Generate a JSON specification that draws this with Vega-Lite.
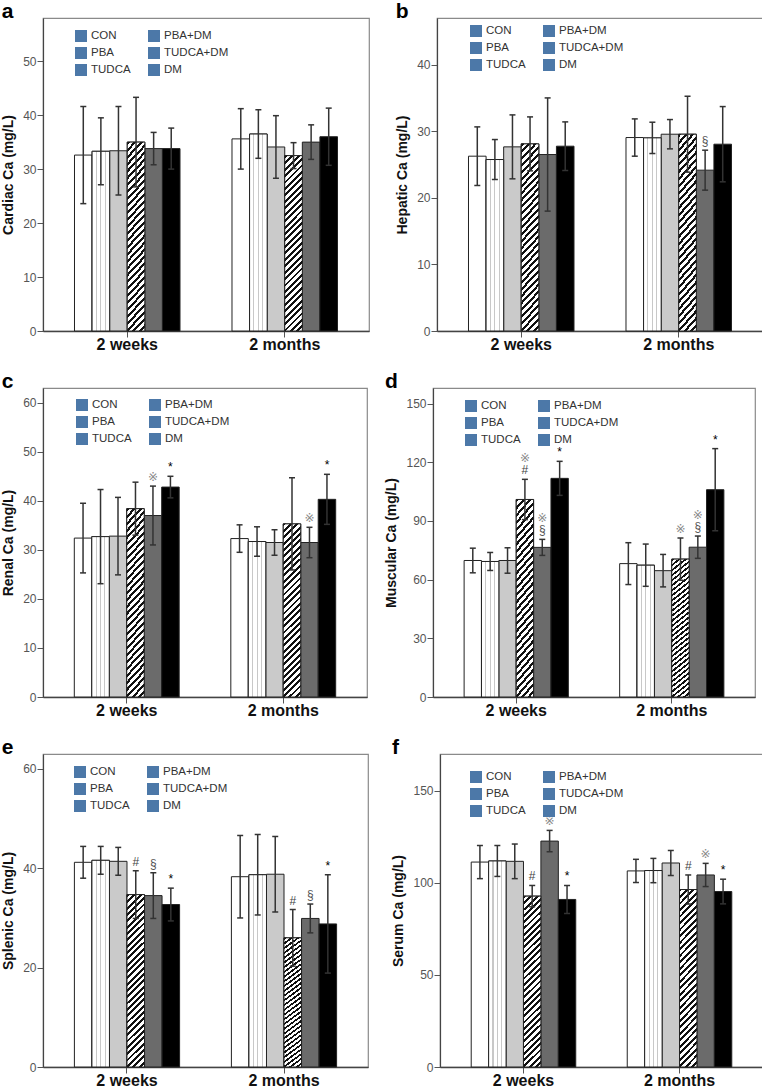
{
"$schema": "https://vega.github.io/schema/vega-lite/v6.json",
"padding": {"left": 1, "top": 0, "right": 0, "bottom": 0},
"background": "#ffffff",
"datasets": {"bars": [
{"panel":"a","time":"2 weeks","group":"CON","mean":32.6,"lo":23.6,"hi":41.6},
{"panel":"a","time":"2 weeks","group":"PBA","mean":33.3,"lo":27.1,"hi":39.5},
{"panel":"a","time":"2 weeks","group":"TUDCA","mean":33.4,"lo":25.2,"hi":41.6},
{"panel":"a","time":"2 weeks","group":"PBA+DM","mean":35.0,"lo":26.7,"hi":43.3},
{"panel":"a","time":"2 weeks","group":"TUDCA+DM","mean":33.8,"lo":30.8,"hi":36.8},
{"panel":"a","time":"2 weeks","group":"DM","mean":33.8,"lo":30.0,"hi":37.6},
{"panel":"a","time":"2 months","group":"CON","mean":35.6,"lo":30.0,"hi":41.2},
{"panel":"a","time":"2 months","group":"PBA","mean":36.5,"lo":32.0,"hi":41.0},
{"panel":"a","time":"2 months","group":"TUDCA","mean":34.1,"lo":28.3,"hi":39.9},
{"panel":"a","time":"2 months","group":"PBA+DM","mean":32.5,"lo":30.1,"hi":34.9},
{"panel":"a","time":"2 months","group":"TUDCA+DM","mean":35.0,"lo":31.8,"hi":38.2},
{"panel":"a","time":"2 months","group":"DM","mean":36.0,"lo":30.7,"hi":41.3},
{"panel":"b","time":"2 weeks","group":"CON","mean":26.25,"lo":21.85,"hi":30.65},
{"panel":"b","time":"2 weeks","group":"PBA","mean":25.75,"lo":22.75,"hi":28.75},
{"panel":"b","time":"2 weeks","group":"TUDCA","mean":27.65,"lo":22.85,"hi":32.45},
{"panel":"b","time":"2 weeks","group":"PBA+DM","mean":28.1,"lo":24.05,"hi":32.15},
{"panel":"b","time":"2 weeks","group":"TUDCA+DM","mean":26.5,"lo":18.0,"hi":35.0},
{"panel":"b","time":"2 weeks","group":"DM","mean":27.75,"lo":24.1,"hi":31.4},
{"panel":"b","time":"2 months","group":"CON","mean":29.05,"lo":26.25,"hi":31.85},
{"panel":"b","time":"2 months","group":"PBA","mean":29.0,"lo":26.65,"hi":31.35},
{"panel":"b","time":"2 months","group":"TUDCA","mean":29.55,"lo":27.35,"hi":31.75},
{"panel":"b","time":"2 months","group":"PBA+DM","mean":29.55,"lo":23.85,"hi":35.25},
{"panel":"b","time":"2 months","group":"TUDCA+DM","mean":24.15,"lo":21.15,"hi":27.15,"n1":"§"},
{"panel":"b","time":"2 months","group":"DM","mean":28.05,"lo":22.4,"hi":33.7},
{"panel":"c","time":"2 weeks","group":"CON","mean":32.4,"lo":25.3,"hi":39.5},
{"panel":"c","time":"2 weeks","group":"PBA","mean":32.7,"lo":23.1,"hi":42.3},
{"panel":"c","time":"2 weeks","group":"TUDCA","mean":32.8,"lo":24.9,"hi":40.7},
{"panel":"c","time":"2 weeks","group":"PBA+DM","mean":38.4,"lo":33.0,"hi":43.8},
{"panel":"c","time":"2 weeks","group":"TUDCA+DM","mean":37.0,"lo":31.0,"hi":43.0,"n1":"※"},
{"panel":"c","time":"2 weeks","group":"DM","mean":42.8,"lo":40.6,"hi":45.0,"n1":"*"},
{"panel":"c","time":"2 months","group":"CON","mean":32.3,"lo":29.5,"hi":35.1},
{"panel":"c","time":"2 months","group":"PBA","mean":31.7,"lo":28.7,"hi":34.7},
{"panel":"c","time":"2 months","group":"TUDCA","mean":31.5,"lo":28.9,"hi":34.1},
{"panel":"c","time":"2 months","group":"PBA+DM","mean":35.3,"lo":25.9,"hi":44.7},
{"panel":"c","time":"2 months","group":"TUDCA+DM","mean":31.5,"lo":28.4,"hi":34.6,"n1":"※"},
{"panel":"c","time":"2 months","group":"DM","mean":40.3,"lo":35.2,"hi":45.4,"n1":"*"},
{"panel":"d","time":"2 weeks","group":"CON","mean":69.8,"lo":63.5,"hi":76.1},
{"panel":"d","time":"2 weeks","group":"PBA","mean":69.3,"lo":64.7,"hi":73.9},
{"panel":"d","time":"2 weeks","group":"TUDCA","mean":69.8,"lo":63.3,"hi":76.3},
{"panel":"d","time":"2 weeks","group":"PBA+DM","mean":101.0,"lo":90.7,"hi":111.3,"n1":"#","n2":"※"},
{"panel":"d","time":"2 weeks","group":"TUDCA+DM","mean":76.5,"lo":72.4,"hi":80.6,"n1":"§","n2":"※"},
{"panel":"d","time":"2 weeks","group":"DM","mean":111.8,"lo":103.1,"hi":120.5,"n1":"*"},
{"panel":"d","time":"2 months","group":"CON","mean":68.2,"lo":57.5,"hi":78.9},
{"panel":"d","time":"2 months","group":"PBA","mean":67.4,"lo":56.6,"hi":78.2},
{"panel":"d","time":"2 months","group":"TUDCA","mean":64.6,"lo":56.3,"hi":72.9},
{"panel":"d","time":"2 months","group":"PBA+DM","mean":70.5,"lo":59.7,"hi":81.3,"n1":"※"},
{"panel":"d","time":"2 months","group":"TUDCA+DM","mean":76.6,"lo":70.9,"hi":82.3,"n1":"§","n2":"※"},
{"panel":"d","time":"2 months","group":"DM","mean":106.0,"lo":85.0,"hi":127.0,"n1":"*"},
{"panel":"e","time":"2 weeks","group":"CON","mean":41.2,"lo":38.0,"hi":44.4},
{"panel":"e","time":"2 weeks","group":"PBA","mean":41.6,"lo":38.8,"hi":44.4},
{"panel":"e","time":"2 weeks","group":"TUDCA","mean":41.4,"lo":38.6,"hi":44.2},
{"panel":"e","time":"2 weeks","group":"PBA+DM","mean":34.7,"lo":29.9,"hi":39.5,"n1":"#"},
{"panel":"e","time":"2 weeks","group":"TUDCA+DM","mean":34.5,"lo":29.9,"hi":39.1,"n1":"§"},
{"panel":"e","time":"2 weeks","group":"DM","mean":32.7,"lo":29.4,"hi":36.0,"n1":"*"},
{"panel":"e","time":"2 months","group":"CON","mean":38.3,"lo":30.0,"hi":46.6},
{"panel":"e","time":"2 months","group":"PBA","mean":38.7,"lo":30.6,"hi":46.8},
{"panel":"e","time":"2 months","group":"TUDCA","mean":38.8,"lo":31.2,"hi":46.4},
{"panel":"e","time":"2 months","group":"PBA+DM","mean":26.0,"lo":20.3,"hi":31.7,"n1":"#"},
{"panel":"e","time":"2 months","group":"TUDCA+DM","mean":29.9,"lo":27.0,"hi":32.8,"n1":"§"},
{"panel":"e","time":"2 months","group":"DM","mean":28.8,"lo":18.9,"hi":38.7,"n1":"*"},
{"panel":"f","time":"2 weeks","group":"CON","mean":111.3,"lo":102.3,"hi":120.3},
{"panel":"f","time":"2 weeks","group":"PBA","mean":111.9,"lo":103.5,"hi":120.3},
{"panel":"f","time":"2 weeks","group":"TUDCA","mean":111.7,"lo":102.3,"hi":121.1},
{"panel":"f","time":"2 weeks","group":"PBA+DM","mean":92.8,"lo":87.0,"hi":98.6,"n1":"#"},
{"panel":"f","time":"2 weeks","group":"TUDCA+DM","mean":122.7,"lo":116.9,"hi":128.5,"n1":"※"},
{"panel":"f","time":"2 weeks","group":"DM","mean":91.0,"lo":83.4,"hi":98.6,"n1":"*"},
{"panel":"f","time":"2 months","group":"CON","mean":106.5,"lo":100.2,"hi":112.8},
{"panel":"f","time":"2 months","group":"PBA","mean":106.7,"lo":100.1,"hi":113.3},
{"panel":"f","time":"2 months","group":"TUDCA","mean":110.8,"lo":104.0,"hi":117.6},
{"panel":"f","time":"2 months","group":"PBA+DM","mean":96.4,"lo":88.5,"hi":104.3,"n1":"#"},
{"panel":"f","time":"2 months","group":"TUDCA+DM","mean":104.3,"lo":98.0,"hi":110.6,"n1":"※"},
{"panel":"f","time":"2 months","group":"DM","mean":95.3,"lo":88.6,"hi":102.0,"n1":"*"}
]},
"config": {
 "font": "Liberation Sans",
 "view": {"stroke": "#8a8a8a", "strokeWidth": 1.2},
 "axis": {"grid": false, "domainColor": "#444444", "tickColor": "#555555", "tickSize": 6},
 "axisX": {"labelFontSize": 16, "labelFontWeight": "bold", "labelColor": "#111111", "labelPadding": -1, "labelAngle": 0, "domainWidth": 1.3},
 "axisY": {"labelFontSize": 12, "labelColor": "#555555", "labelPadding": 1, "titleFontSize": 14, "titleFontWeight": "bold", "titleColor": "#111111", "titlePadding": 7, "domainWidth": 1.2, "minExtent": 0},
 "title": {"fontSize": 21, "fontWeight": "bold", "anchor": "start", "frame": "bounds", "offset": -4, "baseline": "alphabetic", "color": "#000000"},
 "legend": {"columns": 2, "columnPadding": 14, "rowPadding": -1, "symbolType": "square", "symbolSize": 144, "symbolOpacity": 1, "labelFontSize": 11.5, "labelColor": "#333333", "labelOffset": 3}
},
"spacing": 17,
"resolve": {"scale": {"color": "independent", "shape": "independent", "y": "independent", "x": "independent", "xOffset": "independent"}, "legend": {"color": "independent", "shape": "independent"}},
"vconcat": [
{"hconcat": [
 {"title": "a", "width": 326, "height": 313, "data": {"name": "bars"}, "transform": [{"filter": "datum.panel === 'a'"}],
  "encoding": {
   "x": {"field": "time", "type": "nominal", "sort": ["2 weeks", "2 months"], "title": null, "scale": {"paddingInner": 0.33, "paddingOuter": 0.2}},
   "xOffset": {"field": "group", "type": "nominal", "scale": {"domain": ["CON","PBA","TUDCA","PBA+DM","TUDCA+DM","DM"], "paddingInner": 0, "paddingOuter": 0}},
   "y": {"field": "mean", "type": "quantitative", "title": "Cardiac Ca (mg/L)", "scale": {"domain": [0, 58], "nice": false}, "axis": {"values": [0,10,20,30,40,50]}}
  },
  "layer": [
   {"mark": {"type": "bar", "stroke": "#222222", "strokeWidth": 1}, "encoding": {"fill": {"condition": [{"test": "datum.group === 'TUDCA'", "value": "#cacaca"}, {"test": "datum.group === 'TUDCA+DM'", "value": "#6b6b6b"}, {"test": "datum.group === 'DM'", "value": "#000000"}], "value": "#ffffff"}}},
   {"transform": [{"filter": "datum.group === 'PBA'"}], "mark": {"type": "bar", "stroke": "#222222", "strokeWidth": 1, "fill": {"gradient": "linear", "x1": 0, "y1": 0, "x2": 1, "y2": 0, "stops": [
{"offset":0,"color":"#fff"},{"offset":0.22,"color":"#fff"},{"offset":0.22,"color":"#c8c8c8"},{"offset":0.28,"color":"#c8c8c8"},{"offset":0.28,"color":"#fff"},
{"offset":0.47,"color":"#fff"},{"offset":0.47,"color":"#c8c8c8"},{"offset":0.53,"color":"#c8c8c8"},{"offset":0.53,"color":"#fff"},
{"offset":0.72,"color":"#fff"},{"offset":0.72,"color":"#c8c8c8"},{"offset":0.78,"color":"#c8c8c8"},{"offset":0.78,"color":"#fff"},{"offset":1,"color":"#fff"}]}}},
   {"transform": [{"filter": "datum.group === 'PBA+DM'"}], "mark": {"type": "bar", "stroke": "#222222", "strokeWidth": 1, "fill": {"gradient": "linear", "x1": 0, "y1": 0, "x2": 0.1096, "y2": 1.0896, "stops": [
{"offset":0,"color":"#111"},{"offset":0.015,"color":"#111"},{"offset":0.015,"color":"#fff"},{"offset":0.0333,"color":"#fff"},
{"offset":0.0333,"color":"#111"},{"offset":0.0483,"color":"#111"},{"offset":0.0483,"color":"#fff"},{"offset":0.0667,"color":"#fff"},
{"offset":0.0667,"color":"#111"},{"offset":0.0817,"color":"#111"},{"offset":0.0817,"color":"#fff"},{"offset":0.1,"color":"#fff"},
{"offset":0.1,"color":"#111"},{"offset":0.115,"color":"#111"},{"offset":0.115,"color":"#fff"},{"offset":0.1333,"color":"#fff"},
{"offset":0.1333,"color":"#111"},{"offset":0.1483,"color":"#111"},{"offset":0.1483,"color":"#fff"},{"offset":0.1667,"color":"#fff"},
{"offset":0.1667,"color":"#111"},{"offset":0.1817,"color":"#111"},{"offset":0.1817,"color":"#fff"},{"offset":0.2,"color":"#fff"},
{"offset":0.2,"color":"#111"},{"offset":0.215,"color":"#111"},{"offset":0.215,"color":"#fff"},{"offset":0.2333,"color":"#fff"},
{"offset":0.2333,"color":"#111"},{"offset":0.2483,"color":"#111"},{"offset":0.2483,"color":"#fff"},{"offset":0.2667,"color":"#fff"},
{"offset":0.2667,"color":"#111"},{"offset":0.2817,"color":"#111"},{"offset":0.2817,"color":"#fff"},{"offset":0.3,"color":"#fff"},
{"offset":0.3,"color":"#111"},{"offset":0.315,"color":"#111"},{"offset":0.315,"color":"#fff"},{"offset":0.3333,"color":"#fff"},
{"offset":0.3333,"color":"#111"},{"offset":0.3483,"color":"#111"},{"offset":0.3483,"color":"#fff"},{"offset":0.3667,"color":"#fff"},
{"offset":0.3667,"color":"#111"},{"offset":0.3817,"color":"#111"},{"offset":0.3817,"color":"#fff"},{"offset":0.4,"color":"#fff"},
{"offset":0.4,"color":"#111"},{"offset":0.415,"color":"#111"},{"offset":0.415,"color":"#fff"},{"offset":0.4333,"color":"#fff"},
{"offset":0.4333,"color":"#111"},{"offset":0.4483,"color":"#111"},{"offset":0.4483,"color":"#fff"},{"offset":0.4667,"color":"#fff"},
{"offset":0.4667,"color":"#111"},{"offset":0.4817,"color":"#111"},{"offset":0.4817,"color":"#fff"},{"offset":0.5,"color":"#fff"},
{"offset":0.5,"color":"#111"},{"offset":0.515,"color":"#111"},{"offset":0.515,"color":"#fff"},{"offset":0.5333,"color":"#fff"},
{"offset":0.5333,"color":"#111"},{"offset":0.5483,"color":"#111"},{"offset":0.5483,"color":"#fff"},{"offset":0.5667,"color":"#fff"},
{"offset":0.5667,"color":"#111"},{"offset":0.5817,"color":"#111"},{"offset":0.5817,"color":"#fff"},{"offset":0.6,"color":"#fff"},
{"offset":0.6,"color":"#111"},{"offset":0.615,"color":"#111"},{"offset":0.615,"color":"#fff"},{"offset":0.6333,"color":"#fff"},
{"offset":0.6333,"color":"#111"},{"offset":0.6483,"color":"#111"},{"offset":0.6483,"color":"#fff"},{"offset":0.6667,"color":"#fff"},
{"offset":0.6667,"color":"#111"},{"offset":0.6817,"color":"#111"},{"offset":0.6817,"color":"#fff"},{"offset":0.7,"color":"#fff"},
{"offset":0.7,"color":"#111"},{"offset":0.715,"color":"#111"},{"offset":0.715,"color":"#fff"},{"offset":0.7333,"color":"#fff"},
{"offset":0.7333,"color":"#111"},{"offset":0.7483,"color":"#111"},{"offset":0.7483,"color":"#fff"},{"offset":0.7667,"color":"#fff"},
{"offset":0.7667,"color":"#111"},{"offset":0.7817,"color":"#111"},{"offset":0.7817,"color":"#fff"},{"offset":0.8,"color":"#fff"},
{"offset":0.8,"color":"#111"},{"offset":0.815,"color":"#111"},{"offset":0.815,"color":"#fff"},{"offset":0.8333,"color":"#fff"},
{"offset":0.8333,"color":"#111"},{"offset":0.8483,"color":"#111"},{"offset":0.8483,"color":"#fff"},{"offset":0.8667,"color":"#fff"},
{"offset":0.8667,"color":"#111"},{"offset":0.8817,"color":"#111"},{"offset":0.8817,"color":"#fff"},{"offset":0.9,"color":"#fff"},
{"offset":0.9,"color":"#111"},{"offset":0.915,"color":"#111"},{"offset":0.915,"color":"#fff"},{"offset":0.9333,"color":"#fff"},
{"offset":0.9333,"color":"#111"},{"offset":0.9483,"color":"#111"},{"offset":0.9483,"color":"#fff"},{"offset":0.9667,"color":"#fff"},
{"offset":0.9667,"color":"#111"},{"offset":0.9817,"color":"#111"},{"offset":0.9817,"color":"#fff"},{"offset":1,"color":"#fff"}]}}},
   {"mark": {"type": "rule", "color": "#333333", "strokeWidth": 1.5}, "encoding": {"y": {"field": "lo", "type": "quantitative"}, "y2": {"field": "hi"}}},
   {"mark": {"type": "tick", "color": "#333333", "thickness": 1.5, "size": 6, "opacity": 1}, "encoding": {"y": {"field": "hi", "type": "quantitative"}}},
   {"mark": {"type": "tick", "color": "#333333", "thickness": 1.5, "size": 6, "opacity": 1}, "encoding": {"y": {"field": "lo", "type": "quantitative"}}},
   {"mark": {"type": "point", "filled": true, "opacity": 0}, "encoding": {"shape": {"field": "group", "type": "nominal", "scale": {"domain": ["CON","PBA","TUDCA","PBA+DM","TUDCA+DM","DM"], "range": ["square","square","square","square","square","square"]},
     "legend": {"title": null, "orient": "none", "legendX": 31, "legendY": 11, "encode": {"symbols": {"stroke": {"value": "#222222"}, "strokeWidth": {"value": 1}, "opacity": {"value": 1}, "fillOpacity": {"value": 1}, "fill": {"value": {"expr": "datum.value === 'PBA+DM' ? {gradient: 'linear', x1: 0, y1: 0, x2: 1, y2: 1, stops: [{offset: 0, color: '#111'}, {offset: 0.1125, color: '#111'}, {offset: 0.1125, color: '#fff'}, {offset: 0.25, color: '#fff'}, {offset: 0.25, color: '#111'}, {offset: 0.3625, color: '#111'}, {offset: 0.3625, color: '#fff'}, {offset: 0.5, color: '#fff'}, {offset: 0.5, color: '#111'}, {offset: 0.6125, color: '#111'}, {offset: 0.6125, color: '#fff'}, {offset: 0.75, color: '#fff'}, {offset: 0.75, color: '#111'}, {offset: 0.8625, color: '#111'}, {offset: 0.8625, color: '#fff'}, {offset: 1, color: '#fff'}]} : datum.value === 'PBA' ? {gradient: 'linear', x1: 0, y1: 0, x2: 1, y2: 0, stops: [{offset: 0, color: '#fff'}, {offset: 0.3, color: '#fff'}, {offset: 0.3, color: '#c0c0c0'}, {offset: 0.38, color: '#c0c0c0'}, {offset: 0.38, color: '#fff'}, {offset: 0.62, color: '#fff'}, {offset: 0.62, color: '#c0c0c0'}, {offset: 0.7, color: '#c0c0c0'}, {offset: 0.7, color: '#fff'}, {offset: 1, color: '#fff'}]} : datum.value === 'TUDCA' ? '#cacaca' : datum.value === 'TUDCA+DM' ? '#6b6b6b' : datum.value === 'DM' ? '#000000' : '#ffffff'"}}}}}}}}
  ]},
 {"title": "b", "width": 326, "height": 313, "data": {"name": "bars"}, "transform": [{"filter": "datum.panel === 'b'"}],
  "encoding": {
   "x": {"field": "time", "type": "nominal", "sort": ["2 weeks", "2 months"], "title": null, "scale": {"paddingInner": 0.33, "paddingOuter": 0.2}},
   "xOffset": {"field": "group", "type": "nominal", "scale": {"domain": ["CON","PBA","TUDCA","PBA+DM","TUDCA+DM","DM"], "paddingInner": 0, "paddingOuter": 0}},
   "y": {"field": "mean", "type": "quantitative", "title": "Hepatic Ca (mg/L)", "scale": {"domain": [0, 47], "nice": false}, "axis": {"values": [0,10,20,30,40]}}
  },
  "layer": [
   {"mark": {"type": "bar", "stroke": "#222222", "strokeWidth": 1}, "encoding": {"fill": {"condition": [{"test": "datum.group === 'TUDCA'", "value": "#cacaca"}, {"test": "datum.group === 'TUDCA+DM'", "value": "#6b6b6b"}, {"test": "datum.group === 'DM'", "value": "#000000"}], "value": "#ffffff"}}},
   {"transform": [{"filter": "datum.group === 'PBA'"}], "mark": {"type": "bar", "stroke": "#222222", "strokeWidth": 1, "fill": {"gradient": "linear", "x1": 0, "y1": 0, "x2": 1, "y2": 0, "stops": [
{"offset":0,"color":"#fff"},{"offset":0.22,"color":"#fff"},{"offset":0.22,"color":"#c8c8c8"},{"offset":0.28,"color":"#c8c8c8"},{"offset":0.28,"color":"#fff"},
{"offset":0.47,"color":"#fff"},{"offset":0.47,"color":"#c8c8c8"},{"offset":0.53,"color":"#c8c8c8"},{"offset":0.53,"color":"#fff"},
{"offset":0.72,"color":"#fff"},{"offset":0.72,"color":"#c8c8c8"},{"offset":0.78,"color":"#c8c8c8"},{"offset":0.78,"color":"#fff"},{"offset":1,"color":"#fff"}]}}},
   {"transform": [{"filter": "datum.group === 'PBA+DM'"}], "mark": {"type": "bar", "stroke": "#222222", "strokeWidth": 1, "fill": {"gradient": "linear", "x1": 0, "y1": 0, "x2": 0.1096, "y2": 1.0896, "stops": [
{"offset":0,"color":"#111"},{"offset":0.015,"color":"#111"},{"offset":0.015,"color":"#fff"},{"offset":0.0333,"color":"#fff"},
{"offset":0.0333,"color":"#111"},{"offset":0.0483,"color":"#111"},{"offset":0.0483,"color":"#fff"},{"offset":0.0667,"color":"#fff"},
{"offset":0.0667,"color":"#111"},{"offset":0.0817,"color":"#111"},{"offset":0.0817,"color":"#fff"},{"offset":0.1,"color":"#fff"},
{"offset":0.1,"color":"#111"},{"offset":0.115,"color":"#111"},{"offset":0.115,"color":"#fff"},{"offset":0.1333,"color":"#fff"},
{"offset":0.1333,"color":"#111"},{"offset":0.1483,"color":"#111"},{"offset":0.1483,"color":"#fff"},{"offset":0.1667,"color":"#fff"},
{"offset":0.1667,"color":"#111"},{"offset":0.1817,"color":"#111"},{"offset":0.1817,"color":"#fff"},{"offset":0.2,"color":"#fff"},
{"offset":0.2,"color":"#111"},{"offset":0.215,"color":"#111"},{"offset":0.215,"color":"#fff"},{"offset":0.2333,"color":"#fff"},
{"offset":0.2333,"color":"#111"},{"offset":0.2483,"color":"#111"},{"offset":0.2483,"color":"#fff"},{"offset":0.2667,"color":"#fff"},
{"offset":0.2667,"color":"#111"},{"offset":0.2817,"color":"#111"},{"offset":0.2817,"color":"#fff"},{"offset":0.3,"color":"#fff"},
{"offset":0.3,"color":"#111"},{"offset":0.315,"color":"#111"},{"offset":0.315,"color":"#fff"},{"offset":0.3333,"color":"#fff"},
{"offset":0.3333,"color":"#111"},{"offset":0.3483,"color":"#111"},{"offset":0.3483,"color":"#fff"},{"offset":0.3667,"color":"#fff"},
{"offset":0.3667,"color":"#111"},{"offset":0.3817,"color":"#111"},{"offset":0.3817,"color":"#fff"},{"offset":0.4,"color":"#fff"},
{"offset":0.4,"color":"#111"},{"offset":0.415,"color":"#111"},{"offset":0.415,"color":"#fff"},{"offset":0.4333,"color":"#fff"},
{"offset":0.4333,"color":"#111"},{"offset":0.4483,"color":"#111"},{"offset":0.4483,"color":"#fff"},{"offset":0.4667,"color":"#fff"},
{"offset":0.4667,"color":"#111"},{"offset":0.4817,"color":"#111"},{"offset":0.4817,"color":"#fff"},{"offset":0.5,"color":"#fff"},
{"offset":0.5,"color":"#111"},{"offset":0.515,"color":"#111"},{"offset":0.515,"color":"#fff"},{"offset":0.5333,"color":"#fff"},
{"offset":0.5333,"color":"#111"},{"offset":0.5483,"color":"#111"},{"offset":0.5483,"color":"#fff"},{"offset":0.5667,"color":"#fff"},
{"offset":0.5667,"color":"#111"},{"offset":0.5817,"color":"#111"},{"offset":0.5817,"color":"#fff"},{"offset":0.6,"color":"#fff"},
{"offset":0.6,"color":"#111"},{"offset":0.615,"color":"#111"},{"offset":0.615,"color":"#fff"},{"offset":0.6333,"color":"#fff"},
{"offset":0.6333,"color":"#111"},{"offset":0.6483,"color":"#111"},{"offset":0.6483,"color":"#fff"},{"offset":0.6667,"color":"#fff"},
{"offset":0.6667,"color":"#111"},{"offset":0.6817,"color":"#111"},{"offset":0.6817,"color":"#fff"},{"offset":0.7,"color":"#fff"},
{"offset":0.7,"color":"#111"},{"offset":0.715,"color":"#111"},{"offset":0.715,"color":"#fff"},{"offset":0.7333,"color":"#fff"},
{"offset":0.7333,"color":"#111"},{"offset":0.7483,"color":"#111"},{"offset":0.7483,"color":"#fff"},{"offset":0.7667,"color":"#fff"},
{"offset":0.7667,"color":"#111"},{"offset":0.7817,"color":"#111"},{"offset":0.7817,"color":"#fff"},{"offset":0.8,"color":"#fff"},
{"offset":0.8,"color":"#111"},{"offset":0.815,"color":"#111"},{"offset":0.815,"color":"#fff"},{"offset":0.8333,"color":"#fff"},
{"offset":0.8333,"color":"#111"},{"offset":0.8483,"color":"#111"},{"offset":0.8483,"color":"#fff"},{"offset":0.8667,"color":"#fff"},
{"offset":0.8667,"color":"#111"},{"offset":0.8817,"color":"#111"},{"offset":0.8817,"color":"#fff"},{"offset":0.9,"color":"#fff"},
{"offset":0.9,"color":"#111"},{"offset":0.915,"color":"#111"},{"offset":0.915,"color":"#fff"},{"offset":0.9333,"color":"#fff"},
{"offset":0.9333,"color":"#111"},{"offset":0.9483,"color":"#111"},{"offset":0.9483,"color":"#fff"},{"offset":0.9667,"color":"#fff"},
{"offset":0.9667,"color":"#111"},{"offset":0.9817,"color":"#111"},{"offset":0.9817,"color":"#fff"},{"offset":1,"color":"#fff"}]}}},
   {"mark": {"type": "rule", "color": "#333333", "strokeWidth": 1.5}, "encoding": {"y": {"field": "lo", "type": "quantitative"}, "y2": {"field": "hi"}}},
   {"mark": {"type": "tick", "color": "#333333", "thickness": 1.5, "size": 6, "opacity": 1}, "encoding": {"y": {"field": "hi", "type": "quantitative"}}},
   {"mark": {"type": "tick", "color": "#333333", "thickness": 1.5, "size": 6, "opacity": 1}, "encoding": {"y": {"field": "lo", "type": "quantitative"}}},
   {"transform": [{"filter": "isValid(datum.n1)"}], "mark": {"type": "text", "baseline": "alphabetic", "dy": -5, "fontSize": 12, "font": "Liberation Sans, DejaVu Sans, Noto Sans CJK SC"}, "encoding": {"y": {"field": "hi", "type": "quantitative"}, "text": {"field": "n1"}, "color": {"field": "n1", "type": "nominal", "scale": {"domain": ["*","#","§","※"], "range": ["#000000","#444444","#555555","#8a8a8a"]}, "legend": null}}},
   {"mark": {"type": "point", "filled": true, "opacity": 0}, "encoding": {"shape": {"field": "group", "type": "nominal", "scale": {"domain": ["CON","PBA","TUDCA","PBA+DM","TUDCA+DM","DM"], "range": ["square","square","square","square","square","square"]},
     "legend": {"title": null, "orient": "none", "legendX": 32, "legendY": 6, "encode": {"symbols": {"stroke": {"value": "#222222"}, "strokeWidth": {"value": 1}, "opacity": {"value": 1}, "fillOpacity": {"value": 1}, "fill": {"value": {"expr": "datum.value === 'PBA+DM' ? {gradient: 'linear', x1: 0, y1: 0, x2: 1, y2: 1, stops: [{offset: 0, color: '#111'}, {offset: 0.1125, color: '#111'}, {offset: 0.1125, color: '#fff'}, {offset: 0.25, color: '#fff'}, {offset: 0.25, color: '#111'}, {offset: 0.3625, color: '#111'}, {offset: 0.3625, color: '#fff'}, {offset: 0.5, color: '#fff'}, {offset: 0.5, color: '#111'}, {offset: 0.6125, color: '#111'}, {offset: 0.6125, color: '#fff'}, {offset: 0.75, color: '#fff'}, {offset: 0.75, color: '#111'}, {offset: 0.8625, color: '#111'}, {offset: 0.8625, color: '#fff'}, {offset: 1, color: '#fff'}]} : datum.value === 'PBA' ? {gradient: 'linear', x1: 0, y1: 0, x2: 1, y2: 0, stops: [{offset: 0, color: '#fff'}, {offset: 0.3, color: '#fff'}, {offset: 0.3, color: '#c0c0c0'}, {offset: 0.38, color: '#c0c0c0'}, {offset: 0.38, color: '#fff'}, {offset: 0.62, color: '#fff'}, {offset: 0.62, color: '#c0c0c0'}, {offset: 0.7, color: '#c0c0c0'}, {offset: 0.7, color: '#fff'}, {offset: 1, color: '#fff'}]} : datum.value === 'TUDCA' ? '#cacaca' : datum.value === 'TUDCA+DM' ? '#6b6b6b' : datum.value === 'DM' ? '#000000' : '#ffffff'"}}}}}}}}
  ]}
 ], "spacing": 25, "resolve": {"scale": {"color": "independent", "shape": "independent", "y": "independent", "x": "independent", "xOffset": "independent"}, "legend": {"color": "independent", "shape": "independent"}}},
{"hconcat": [
 {"title": "c", "width": 324, "height": 309, "data": {"name": "bars"}, "transform": [{"filter": "datum.panel === 'c'"}],
  "encoding": {
   "x": {"field": "time", "type": "nominal", "sort": ["2 weeks", "2 months"], "title": null, "scale": {"paddingInner": 0.33, "paddingOuter": 0.2}},
   "xOffset": {"field": "group", "type": "nominal", "scale": {"domain": ["CON","PBA","TUDCA","PBA+DM","TUDCA+DM","DM"], "paddingInner": 0, "paddingOuter": 0}},
   "y": {"field": "mean", "type": "quantitative", "title": "Renal Ca (mg/L)", "scale": {"domain": [0, 63], "nice": false}, "axis": {"values": [0,10,20,30,40,50,60]}}
  },
  "layer": [
   {"mark": {"type": "bar", "stroke": "#222222", "strokeWidth": 1}, "encoding": {"fill": {"condition": [{"test": "datum.group === 'TUDCA'", "value": "#cacaca"}, {"test": "datum.group === 'TUDCA+DM'", "value": "#6b6b6b"}, {"test": "datum.group === 'DM'", "value": "#000000"}], "value": "#ffffff"}}},
   {"transform": [{"filter": "datum.group === 'PBA'"}], "mark": {"type": "bar", "stroke": "#222222", "strokeWidth": 1, "fill": {"gradient": "linear", "x1": 0, "y1": 0, "x2": 1, "y2": 0, "stops": [
{"offset":0,"color":"#fff"},{"offset":0.22,"color":"#fff"},{"offset":0.22,"color":"#c8c8c8"},{"offset":0.28,"color":"#c8c8c8"},{"offset":0.28,"color":"#fff"},
{"offset":0.47,"color":"#fff"},{"offset":0.47,"color":"#c8c8c8"},{"offset":0.53,"color":"#c8c8c8"},{"offset":0.53,"color":"#fff"},
{"offset":0.72,"color":"#fff"},{"offset":0.72,"color":"#c8c8c8"},{"offset":0.78,"color":"#c8c8c8"},{"offset":0.78,"color":"#fff"},{"offset":1,"color":"#fff"}]}}},
   {"transform": [{"filter": "datum.group === 'PBA+DM'"}], "mark": {"type": "bar", "stroke": "#222222", "strokeWidth": 1, "fill": {"gradient": "linear", "x1": 0, "y1": 0, "x2": 0.1096, "y2": 1.0896, "stops": [
{"offset":0,"color":"#111"},{"offset":0.015,"color":"#111"},{"offset":0.015,"color":"#fff"},{"offset":0.0333,"color":"#fff"},
{"offset":0.0333,"color":"#111"},{"offset":0.0483,"color":"#111"},{"offset":0.0483,"color":"#fff"},{"offset":0.0667,"color":"#fff"},
{"offset":0.0667,"color":"#111"},{"offset":0.0817,"color":"#111"},{"offset":0.0817,"color":"#fff"},{"offset":0.1,"color":"#fff"},
{"offset":0.1,"color":"#111"},{"offset":0.115,"color":"#111"},{"offset":0.115,"color":"#fff"},{"offset":0.1333,"color":"#fff"},
{"offset":0.1333,"color":"#111"},{"offset":0.1483,"color":"#111"},{"offset":0.1483,"color":"#fff"},{"offset":0.1667,"color":"#fff"},
{"offset":0.1667,"color":"#111"},{"offset":0.1817,"color":"#111"},{"offset":0.1817,"color":"#fff"},{"offset":0.2,"color":"#fff"},
{"offset":0.2,"color":"#111"},{"offset":0.215,"color":"#111"},{"offset":0.215,"color":"#fff"},{"offset":0.2333,"color":"#fff"},
{"offset":0.2333,"color":"#111"},{"offset":0.2483,"color":"#111"},{"offset":0.2483,"color":"#fff"},{"offset":0.2667,"color":"#fff"},
{"offset":0.2667,"color":"#111"},{"offset":0.2817,"color":"#111"},{"offset":0.2817,"color":"#fff"},{"offset":0.3,"color":"#fff"},
{"offset":0.3,"color":"#111"},{"offset":0.315,"color":"#111"},{"offset":0.315,"color":"#fff"},{"offset":0.3333,"color":"#fff"},
{"offset":0.3333,"color":"#111"},{"offset":0.3483,"color":"#111"},{"offset":0.3483,"color":"#fff"},{"offset":0.3667,"color":"#fff"},
{"offset":0.3667,"color":"#111"},{"offset":0.3817,"color":"#111"},{"offset":0.3817,"color":"#fff"},{"offset":0.4,"color":"#fff"},
{"offset":0.4,"color":"#111"},{"offset":0.415,"color":"#111"},{"offset":0.415,"color":"#fff"},{"offset":0.4333,"color":"#fff"},
{"offset":0.4333,"color":"#111"},{"offset":0.4483,"color":"#111"},{"offset":0.4483,"color":"#fff"},{"offset":0.4667,"color":"#fff"},
{"offset":0.4667,"color":"#111"},{"offset":0.4817,"color":"#111"},{"offset":0.4817,"color":"#fff"},{"offset":0.5,"color":"#fff"},
{"offset":0.5,"color":"#111"},{"offset":0.515,"color":"#111"},{"offset":0.515,"color":"#fff"},{"offset":0.5333,"color":"#fff"},
{"offset":0.5333,"color":"#111"},{"offset":0.5483,"color":"#111"},{"offset":0.5483,"color":"#fff"},{"offset":0.5667,"color":"#fff"},
{"offset":0.5667,"color":"#111"},{"offset":0.5817,"color":"#111"},{"offset":0.5817,"color":"#fff"},{"offset":0.6,"color":"#fff"},
{"offset":0.6,"color":"#111"},{"offset":0.615,"color":"#111"},{"offset":0.615,"color":"#fff"},{"offset":0.6333,"color":"#fff"},
{"offset":0.6333,"color":"#111"},{"offset":0.6483,"color":"#111"},{"offset":0.6483,"color":"#fff"},{"offset":0.6667,"color":"#fff"},
{"offset":0.6667,"color":"#111"},{"offset":0.6817,"color":"#111"},{"offset":0.6817,"color":"#fff"},{"offset":0.7,"color":"#fff"},
{"offset":0.7,"color":"#111"},{"offset":0.715,"color":"#111"},{"offset":0.715,"color":"#fff"},{"offset":0.7333,"color":"#fff"},
{"offset":0.7333,"color":"#111"},{"offset":0.7483,"color":"#111"},{"offset":0.7483,"color":"#fff"},{"offset":0.7667,"color":"#fff"},
{"offset":0.7667,"color":"#111"},{"offset":0.7817,"color":"#111"},{"offset":0.7817,"color":"#fff"},{"offset":0.8,"color":"#fff"},
{"offset":0.8,"color":"#111"},{"offset":0.815,"color":"#111"},{"offset":0.815,"color":"#fff"},{"offset":0.8333,"color":"#fff"},
{"offset":0.8333,"color":"#111"},{"offset":0.8483,"color":"#111"},{"offset":0.8483,"color":"#fff"},{"offset":0.8667,"color":"#fff"},
{"offset":0.8667,"color":"#111"},{"offset":0.8817,"color":"#111"},{"offset":0.8817,"color":"#fff"},{"offset":0.9,"color":"#fff"},
{"offset":0.9,"color":"#111"},{"offset":0.915,"color":"#111"},{"offset":0.915,"color":"#fff"},{"offset":0.9333,"color":"#fff"},
{"offset":0.9333,"color":"#111"},{"offset":0.9483,"color":"#111"},{"offset":0.9483,"color":"#fff"},{"offset":0.9667,"color":"#fff"},
{"offset":0.9667,"color":"#111"},{"offset":0.9817,"color":"#111"},{"offset":0.9817,"color":"#fff"},{"offset":1,"color":"#fff"}]}}},
   {"mark": {"type": "rule", "color": "#333333", "strokeWidth": 1.5}, "encoding": {"y": {"field": "lo", "type": "quantitative"}, "y2": {"field": "hi"}}},
   {"mark": {"type": "tick", "color": "#333333", "thickness": 1.5, "size": 6, "opacity": 1}, "encoding": {"y": {"field": "hi", "type": "quantitative"}}},
   {"mark": {"type": "tick", "color": "#333333", "thickness": 1.5, "size": 6, "opacity": 1}, "encoding": {"y": {"field": "lo", "type": "quantitative"}}},
   {"transform": [{"filter": "isValid(datum.n1)"}], "mark": {"type": "text", "baseline": "alphabetic", "dy": -5, "fontSize": 12, "font": "Liberation Sans, DejaVu Sans, Noto Sans CJK SC"}, "encoding": {"y": {"field": "hi", "type": "quantitative"}, "text": {"field": "n1"}, "color": {"field": "n1", "type": "nominal", "scale": {"domain": ["*","#","§","※"], "range": ["#000000","#444444","#555555","#8a8a8a"]}, "legend": null}}},
   {"mark": {"type": "point", "filled": true, "opacity": 0}, "encoding": {"shape": {"field": "group", "type": "nominal", "scale": {"domain": ["CON","PBA","TUDCA","PBA+DM","TUDCA+DM","DM"], "range": ["square","square","square","square","square","square"]},
     "legend": {"title": null, "orient": "none", "legendX": 32, "legendY": 10, "encode": {"symbols": {"stroke": {"value": "#222222"}, "strokeWidth": {"value": 1}, "opacity": {"value": 1}, "fillOpacity": {"value": 1}, "fill": {"value": {"expr": "datum.value === 'PBA+DM' ? {gradient: 'linear', x1: 0, y1: 0, x2: 1, y2: 1, stops: [{offset: 0, color: '#111'}, {offset: 0.1125, color: '#111'}, {offset: 0.1125, color: '#fff'}, {offset: 0.25, color: '#fff'}, {offset: 0.25, color: '#111'}, {offset: 0.3625, color: '#111'}, {offset: 0.3625, color: '#fff'}, {offset: 0.5, color: '#fff'}, {offset: 0.5, color: '#111'}, {offset: 0.6125, color: '#111'}, {offset: 0.6125, color: '#fff'}, {offset: 0.75, color: '#fff'}, {offset: 0.75, color: '#111'}, {offset: 0.8625, color: '#111'}, {offset: 0.8625, color: '#fff'}, {offset: 1, color: '#fff'}]} : datum.value === 'PBA' ? {gradient: 'linear', x1: 0, y1: 0, x2: 1, y2: 0, stops: [{offset: 0, color: '#fff'}, {offset: 0.3, color: '#fff'}, {offset: 0.3, color: '#c0c0c0'}, {offset: 0.38, color: '#c0c0c0'}, {offset: 0.38, color: '#fff'}, {offset: 0.62, color: '#fff'}, {offset: 0.62, color: '#c0c0c0'}, {offset: 0.7, color: '#c0c0c0'}, {offset: 0.7, color: '#fff'}, {offset: 1, color: '#fff'}]} : datum.value === 'TUDCA' ? '#cacaca' : datum.value === 'TUDCA+DM' ? '#6b6b6b' : datum.value === 'DM' ? '#000000' : '#ffffff'"}}}}}}}}
  ]},
 {"title": "d", "width": 322, "height": 309, "data": {"name": "bars"}, "transform": [{"filter": "datum.panel === 'd'"}],
  "encoding": {
   "x": {"field": "time", "type": "nominal", "sort": ["2 weeks", "2 months"], "title": null, "scale": {"paddingInner": 0.33, "paddingOuter": 0.2}},
   "xOffset": {"field": "group", "type": "nominal", "scale": {"domain": ["CON","PBA","TUDCA","PBA+DM","TUDCA+DM","DM"], "paddingInner": 0, "paddingOuter": 0}},
   "y": {"field": "mean", "type": "quantitative", "title": "Muscular Ca (mg/L)", "scale": {"domain": [0, 158], "nice": false}, "axis": {"values": [0,30,60,90,120,150]}}
  },
  "layer": [
   {"mark": {"type": "bar", "stroke": "#222222", "strokeWidth": 1}, "encoding": {"fill": {"condition": [{"test": "datum.group === 'TUDCA'", "value": "#cacaca"}, {"test": "datum.group === 'TUDCA+DM'", "value": "#6b6b6b"}, {"test": "datum.group === 'DM'", "value": "#000000"}], "value": "#ffffff"}}},
   {"transform": [{"filter": "datum.group === 'PBA'"}], "mark": {"type": "bar", "stroke": "#222222", "strokeWidth": 1, "fill": {"gradient": "linear", "x1": 0, "y1": 0, "x2": 1, "y2": 0, "stops": [
{"offset":0,"color":"#fff"},{"offset":0.22,"color":"#fff"},{"offset":0.22,"color":"#c8c8c8"},{"offset":0.28,"color":"#c8c8c8"},{"offset":0.28,"color":"#fff"},
{"offset":0.47,"color":"#fff"},{"offset":0.47,"color":"#c8c8c8"},{"offset":0.53,"color":"#c8c8c8"},{"offset":0.53,"color":"#fff"},
{"offset":0.72,"color":"#fff"},{"offset":0.72,"color":"#c8c8c8"},{"offset":0.78,"color":"#c8c8c8"},{"offset":0.78,"color":"#fff"},{"offset":1,"color":"#fff"}]}}},
   {"transform": [{"filter": "datum.group === 'PBA+DM'"}], "mark": {"type": "bar", "stroke": "#222222", "strokeWidth": 1, "fill": {"gradient": "linear", "x1": 0, "y1": 0, "x2": 0.1096, "y2": 1.0896, "stops": [
{"offset":0,"color":"#111"},{"offset":0.015,"color":"#111"},{"offset":0.015,"color":"#fff"},{"offset":0.0333,"color":"#fff"},
{"offset":0.0333,"color":"#111"},{"offset":0.0483,"color":"#111"},{"offset":0.0483,"color":"#fff"},{"offset":0.0667,"color":"#fff"},
{"offset":0.0667,"color":"#111"},{"offset":0.0817,"color":"#111"},{"offset":0.0817,"color":"#fff"},{"offset":0.1,"color":"#fff"},
{"offset":0.1,"color":"#111"},{"offset":0.115,"color":"#111"},{"offset":0.115,"color":"#fff"},{"offset":0.1333,"color":"#fff"},
{"offset":0.1333,"color":"#111"},{"offset":0.1483,"color":"#111"},{"offset":0.1483,"color":"#fff"},{"offset":0.1667,"color":"#fff"},
{"offset":0.1667,"color":"#111"},{"offset":0.1817,"color":"#111"},{"offset":0.1817,"color":"#fff"},{"offset":0.2,"color":"#fff"},
{"offset":0.2,"color":"#111"},{"offset":0.215,"color":"#111"},{"offset":0.215,"color":"#fff"},{"offset":0.2333,"color":"#fff"},
{"offset":0.2333,"color":"#111"},{"offset":0.2483,"color":"#111"},{"offset":0.2483,"color":"#fff"},{"offset":0.2667,"color":"#fff"},
{"offset":0.2667,"color":"#111"},{"offset":0.2817,"color":"#111"},{"offset":0.2817,"color":"#fff"},{"offset":0.3,"color":"#fff"},
{"offset":0.3,"color":"#111"},{"offset":0.315,"color":"#111"},{"offset":0.315,"color":"#fff"},{"offset":0.3333,"color":"#fff"},
{"offset":0.3333,"color":"#111"},{"offset":0.3483,"color":"#111"},{"offset":0.3483,"color":"#fff"},{"offset":0.3667,"color":"#fff"},
{"offset":0.3667,"color":"#111"},{"offset":0.3817,"color":"#111"},{"offset":0.3817,"color":"#fff"},{"offset":0.4,"color":"#fff"},
{"offset":0.4,"color":"#111"},{"offset":0.415,"color":"#111"},{"offset":0.415,"color":"#fff"},{"offset":0.4333,"color":"#fff"},
{"offset":0.4333,"color":"#111"},{"offset":0.4483,"color":"#111"},{"offset":0.4483,"color":"#fff"},{"offset":0.4667,"color":"#fff"},
{"offset":0.4667,"color":"#111"},{"offset":0.4817,"color":"#111"},{"offset":0.4817,"color":"#fff"},{"offset":0.5,"color":"#fff"},
{"offset":0.5,"color":"#111"},{"offset":0.515,"color":"#111"},{"offset":0.515,"color":"#fff"},{"offset":0.5333,"color":"#fff"},
{"offset":0.5333,"color":"#111"},{"offset":0.5483,"color":"#111"},{"offset":0.5483,"color":"#fff"},{"offset":0.5667,"color":"#fff"},
{"offset":0.5667,"color":"#111"},{"offset":0.5817,"color":"#111"},{"offset":0.5817,"color":"#fff"},{"offset":0.6,"color":"#fff"},
{"offset":0.6,"color":"#111"},{"offset":0.615,"color":"#111"},{"offset":0.615,"color":"#fff"},{"offset":0.6333,"color":"#fff"},
{"offset":0.6333,"color":"#111"},{"offset":0.6483,"color":"#111"},{"offset":0.6483,"color":"#fff"},{"offset":0.6667,"color":"#fff"},
{"offset":0.6667,"color":"#111"},{"offset":0.6817,"color":"#111"},{"offset":0.6817,"color":"#fff"},{"offset":0.7,"color":"#fff"},
{"offset":0.7,"color":"#111"},{"offset":0.715,"color":"#111"},{"offset":0.715,"color":"#fff"},{"offset":0.7333,"color":"#fff"},
{"offset":0.7333,"color":"#111"},{"offset":0.7483,"color":"#111"},{"offset":0.7483,"color":"#fff"},{"offset":0.7667,"color":"#fff"},
{"offset":0.7667,"color":"#111"},{"offset":0.7817,"color":"#111"},{"offset":0.7817,"color":"#fff"},{"offset":0.8,"color":"#fff"},
{"offset":0.8,"color":"#111"},{"offset":0.815,"color":"#111"},{"offset":0.815,"color":"#fff"},{"offset":0.8333,"color":"#fff"},
{"offset":0.8333,"color":"#111"},{"offset":0.8483,"color":"#111"},{"offset":0.8483,"color":"#fff"},{"offset":0.8667,"color":"#fff"},
{"offset":0.8667,"color":"#111"},{"offset":0.8817,"color":"#111"},{"offset":0.8817,"color":"#fff"},{"offset":0.9,"color":"#fff"},
{"offset":0.9,"color":"#111"},{"offset":0.915,"color":"#111"},{"offset":0.915,"color":"#fff"},{"offset":0.9333,"color":"#fff"},
{"offset":0.9333,"color":"#111"},{"offset":0.9483,"color":"#111"},{"offset":0.9483,"color":"#fff"},{"offset":0.9667,"color":"#fff"},
{"offset":0.9667,"color":"#111"},{"offset":0.9817,"color":"#111"},{"offset":0.9817,"color":"#fff"},{"offset":1,"color":"#fff"}]}}},
   {"mark": {"type": "rule", "color": "#333333", "strokeWidth": 1.5}, "encoding": {"y": {"field": "lo", "type": "quantitative"}, "y2": {"field": "hi"}}},
   {"mark": {"type": "tick", "color": "#333333", "thickness": 1.5, "size": 6, "opacity": 1}, "encoding": {"y": {"field": "hi", "type": "quantitative"}}},
   {"mark": {"type": "tick", "color": "#333333", "thickness": 1.5, "size": 6, "opacity": 1}, "encoding": {"y": {"field": "lo", "type": "quantitative"}}},
   {"transform": [{"filter": "isValid(datum.n1)"}], "mark": {"type": "text", "baseline": "alphabetic", "dy": -5, "fontSize": 12, "font": "Liberation Sans, DejaVu Sans, Noto Sans CJK SC"}, "encoding": {"y": {"field": "hi", "type": "quantitative"}, "text": {"field": "n1"}, "color": {"field": "n1", "type": "nominal", "scale": {"domain": ["*","#","§","※"], "range": ["#000000","#444444","#555555","#8a8a8a"]}, "legend": null}}},
   {"transform": [{"filter": "isValid(datum.n2)"}], "mark": {"type": "text", "baseline": "alphabetic", "dy": -17, "fontSize": 12, "font": "Liberation Sans, DejaVu Sans, Noto Sans CJK SC"}, "encoding": {"y": {"field": "hi", "type": "quantitative"}, "text": {"field": "n2"}, "color": {"field": "n2", "type": "nominal", "scale": {"domain": ["*","#","§","※"], "range": ["#000000","#444444","#555555","#8a8a8a"]}, "legend": null}}},
   {"mark": {"type": "point", "filled": true, "opacity": 0}, "encoding": {"shape": {"field": "group", "type": "nominal", "scale": {"domain": ["CON","PBA","TUDCA","PBA+DM","TUDCA+DM","DM"], "range": ["square","square","square","square","square","square"]},
     "legend": {"title": null, "orient": "none", "legendX": 31, "legendY": 11, "encode": {"symbols": {"stroke": {"value": "#222222"}, "strokeWidth": {"value": 1}, "opacity": {"value": 1}, "fillOpacity": {"value": 1}, "fill": {"value": {"expr": "datum.value === 'PBA+DM' ? {gradient: 'linear', x1: 0, y1: 0, x2: 1, y2: 1, stops: [{offset: 0, color: '#111'}, {offset: 0.1125, color: '#111'}, {offset: 0.1125, color: '#fff'}, {offset: 0.25, color: '#fff'}, {offset: 0.25, color: '#111'}, {offset: 0.3625, color: '#111'}, {offset: 0.3625, color: '#fff'}, {offset: 0.5, color: '#fff'}, {offset: 0.5, color: '#111'}, {offset: 0.6125, color: '#111'}, {offset: 0.6125, color: '#fff'}, {offset: 0.75, color: '#fff'}, {offset: 0.75, color: '#111'}, {offset: 0.8625, color: '#111'}, {offset: 0.8625, color: '#fff'}, {offset: 1, color: '#fff'}]} : datum.value === 'PBA' ? {gradient: 'linear', x1: 0, y1: 0, x2: 1, y2: 0, stops: [{offset: 0, color: '#fff'}, {offset: 0.3, color: '#fff'}, {offset: 0.3, color: '#c0c0c0'}, {offset: 0.38, color: '#c0c0c0'}, {offset: 0.38, color: '#fff'}, {offset: 0.62, color: '#fff'}, {offset: 0.62, color: '#c0c0c0'}, {offset: 0.7, color: '#c0c0c0'}, {offset: 0.7, color: '#fff'}, {offset: 1, color: '#fff'}]} : datum.value === 'TUDCA' ? '#cacaca' : datum.value === 'TUDCA+DM' ? '#6b6b6b' : datum.value === 'DM' ? '#000000' : '#ffffff'"}}}}}}}}
  ]}
 ], "spacing": 16, "resolve": {"scale": {"color": "independent", "shape": "independent", "y": "independent", "x": "independent", "xOffset": "independent"}, "legend": {"color": "independent", "shape": "independent"}}},
{"hconcat": [
 {"title": "e", "width": 325, "height": 313, "data": {"name": "bars"}, "transform": [{"filter": "datum.panel === 'e'"}],
  "encoding": {
   "x": {"field": "time", "type": "nominal", "sort": ["2 weeks", "2 months"], "title": null, "scale": {"paddingInner": 0.33, "paddingOuter": 0.2}},
   "xOffset": {"field": "group", "type": "nominal", "scale": {"domain": ["CON","PBA","TUDCA","PBA+DM","TUDCA+DM","DM"], "paddingInner": 0, "paddingOuter": 0}},
   "y": {"field": "mean", "type": "quantitative", "title": "Splenic Ca (mg/L)", "scale": {"domain": [0, 63], "nice": false}, "axis": {"values": [0,20,40,60]}}
  },
  "layer": [
   {"mark": {"type": "bar", "stroke": "#222222", "strokeWidth": 1}, "encoding": {"fill": {"condition": [{"test": "datum.group === 'TUDCA'", "value": "#cacaca"}, {"test": "datum.group === 'TUDCA+DM'", "value": "#6b6b6b"}, {"test": "datum.group === 'DM'", "value": "#000000"}], "value": "#ffffff"}}},
   {"transform": [{"filter": "datum.group === 'PBA'"}], "mark": {"type": "bar", "stroke": "#222222", "strokeWidth": 1, "fill": {"gradient": "linear", "x1": 0, "y1": 0, "x2": 1, "y2": 0, "stops": [
{"offset":0,"color":"#fff"},{"offset":0.22,"color":"#fff"},{"offset":0.22,"color":"#c8c8c8"},{"offset":0.28,"color":"#c8c8c8"},{"offset":0.28,"color":"#fff"},
{"offset":0.47,"color":"#fff"},{"offset":0.47,"color":"#c8c8c8"},{"offset":0.53,"color":"#c8c8c8"},{"offset":0.53,"color":"#fff"},
{"offset":0.72,"color":"#fff"},{"offset":0.72,"color":"#c8c8c8"},{"offset":0.78,"color":"#c8c8c8"},{"offset":0.78,"color":"#fff"},{"offset":1,"color":"#fff"}]}}},
   {"transform": [{"filter": "datum.group === 'PBA+DM'"}], "mark": {"type": "bar", "stroke": "#222222", "strokeWidth": 1, "fill": {"gradient": "linear", "x1": 0, "y1": 0, "x2": 0.1096, "y2": 1.0896, "stops": [
{"offset":0,"color":"#111"},{"offset":0.015,"color":"#111"},{"offset":0.015,"color":"#fff"},{"offset":0.0333,"color":"#fff"},
{"offset":0.0333,"color":"#111"},{"offset":0.0483,"color":"#111"},{"offset":0.0483,"color":"#fff"},{"offset":0.0667,"color":"#fff"},
{"offset":0.0667,"color":"#111"},{"offset":0.0817,"color":"#111"},{"offset":0.0817,"color":"#fff"},{"offset":0.1,"color":"#fff"},
{"offset":0.1,"color":"#111"},{"offset":0.115,"color":"#111"},{"offset":0.115,"color":"#fff"},{"offset":0.1333,"color":"#fff"},
{"offset":0.1333,"color":"#111"},{"offset":0.1483,"color":"#111"},{"offset":0.1483,"color":"#fff"},{"offset":0.1667,"color":"#fff"},
{"offset":0.1667,"color":"#111"},{"offset":0.1817,"color":"#111"},{"offset":0.1817,"color":"#fff"},{"offset":0.2,"color":"#fff"},
{"offset":0.2,"color":"#111"},{"offset":0.215,"color":"#111"},{"offset":0.215,"color":"#fff"},{"offset":0.2333,"color":"#fff"},
{"offset":0.2333,"color":"#111"},{"offset":0.2483,"color":"#111"},{"offset":0.2483,"color":"#fff"},{"offset":0.2667,"color":"#fff"},
{"offset":0.2667,"color":"#111"},{"offset":0.2817,"color":"#111"},{"offset":0.2817,"color":"#fff"},{"offset":0.3,"color":"#fff"},
{"offset":0.3,"color":"#111"},{"offset":0.315,"color":"#111"},{"offset":0.315,"color":"#fff"},{"offset":0.3333,"color":"#fff"},
{"offset":0.3333,"color":"#111"},{"offset":0.3483,"color":"#111"},{"offset":0.3483,"color":"#fff"},{"offset":0.3667,"color":"#fff"},
{"offset":0.3667,"color":"#111"},{"offset":0.3817,"color":"#111"},{"offset":0.3817,"color":"#fff"},{"offset":0.4,"color":"#fff"},
{"offset":0.4,"color":"#111"},{"offset":0.415,"color":"#111"},{"offset":0.415,"color":"#fff"},{"offset":0.4333,"color":"#fff"},
{"offset":0.4333,"color":"#111"},{"offset":0.4483,"color":"#111"},{"offset":0.4483,"color":"#fff"},{"offset":0.4667,"color":"#fff"},
{"offset":0.4667,"color":"#111"},{"offset":0.4817,"color":"#111"},{"offset":0.4817,"color":"#fff"},{"offset":0.5,"color":"#fff"},
{"offset":0.5,"color":"#111"},{"offset":0.515,"color":"#111"},{"offset":0.515,"color":"#fff"},{"offset":0.5333,"color":"#fff"},
{"offset":0.5333,"color":"#111"},{"offset":0.5483,"color":"#111"},{"offset":0.5483,"color":"#fff"},{"offset":0.5667,"color":"#fff"},
{"offset":0.5667,"color":"#111"},{"offset":0.5817,"color":"#111"},{"offset":0.5817,"color":"#fff"},{"offset":0.6,"color":"#fff"},
{"offset":0.6,"color":"#111"},{"offset":0.615,"color":"#111"},{"offset":0.615,"color":"#fff"},{"offset":0.6333,"color":"#fff"},
{"offset":0.6333,"color":"#111"},{"offset":0.6483,"color":"#111"},{"offset":0.6483,"color":"#fff"},{"offset":0.6667,"color":"#fff"},
{"offset":0.6667,"color":"#111"},{"offset":0.6817,"color":"#111"},{"offset":0.6817,"color":"#fff"},{"offset":0.7,"color":"#fff"},
{"offset":0.7,"color":"#111"},{"offset":0.715,"color":"#111"},{"offset":0.715,"color":"#fff"},{"offset":0.7333,"color":"#fff"},
{"offset":0.7333,"color":"#111"},{"offset":0.7483,"color":"#111"},{"offset":0.7483,"color":"#fff"},{"offset":0.7667,"color":"#fff"},
{"offset":0.7667,"color":"#111"},{"offset":0.7817,"color":"#111"},{"offset":0.7817,"color":"#fff"},{"offset":0.8,"color":"#fff"},
{"offset":0.8,"color":"#111"},{"offset":0.815,"color":"#111"},{"offset":0.815,"color":"#fff"},{"offset":0.8333,"color":"#fff"},
{"offset":0.8333,"color":"#111"},{"offset":0.8483,"color":"#111"},{"offset":0.8483,"color":"#fff"},{"offset":0.8667,"color":"#fff"},
{"offset":0.8667,"color":"#111"},{"offset":0.8817,"color":"#111"},{"offset":0.8817,"color":"#fff"},{"offset":0.9,"color":"#fff"},
{"offset":0.9,"color":"#111"},{"offset":0.915,"color":"#111"},{"offset":0.915,"color":"#fff"},{"offset":0.9333,"color":"#fff"},
{"offset":0.9333,"color":"#111"},{"offset":0.9483,"color":"#111"},{"offset":0.9483,"color":"#fff"},{"offset":0.9667,"color":"#fff"},
{"offset":0.9667,"color":"#111"},{"offset":0.9817,"color":"#111"},{"offset":0.9817,"color":"#fff"},{"offset":1,"color":"#fff"}]}}},
   {"mark": {"type": "rule", "color": "#333333", "strokeWidth": 1.5}, "encoding": {"y": {"field": "lo", "type": "quantitative"}, "y2": {"field": "hi"}}},
   {"mark": {"type": "tick", "color": "#333333", "thickness": 1.5, "size": 6, "opacity": 1}, "encoding": {"y": {"field": "hi", "type": "quantitative"}}},
   {"mark": {"type": "tick", "color": "#333333", "thickness": 1.5, "size": 6, "opacity": 1}, "encoding": {"y": {"field": "lo", "type": "quantitative"}}},
   {"transform": [{"filter": "isValid(datum.n1)"}], "mark": {"type": "text", "baseline": "alphabetic", "dy": -5, "fontSize": 12, "font": "Liberation Sans, DejaVu Sans, Noto Sans CJK SC"}, "encoding": {"y": {"field": "hi", "type": "quantitative"}, "text": {"field": "n1"}, "color": {"field": "n1", "type": "nominal", "scale": {"domain": ["*","#","§","※"], "range": ["#000000","#444444","#555555","#8a8a8a"]}, "legend": null}}},
   {"mark": {"type": "point", "filled": true, "opacity": 0}, "encoding": {"shape": {"field": "group", "type": "nominal", "scale": {"domain": ["CON","PBA","TUDCA","PBA+DM","TUDCA+DM","DM"], "range": ["square","square","square","square","square","square"]},
     "legend": {"title": null, "orient": "none", "legendX": 30, "legendY": 11, "encode": {"symbols": {"stroke": {"value": "#222222"}, "strokeWidth": {"value": 1}, "opacity": {"value": 1}, "fillOpacity": {"value": 1}, "fill": {"value": {"expr": "datum.value === 'PBA+DM' ? {gradient: 'linear', x1: 0, y1: 0, x2: 1, y2: 1, stops: [{offset: 0, color: '#111'}, {offset: 0.1125, color: '#111'}, {offset: 0.1125, color: '#fff'}, {offset: 0.25, color: '#fff'}, {offset: 0.25, color: '#111'}, {offset: 0.3625, color: '#111'}, {offset: 0.3625, color: '#fff'}, {offset: 0.5, color: '#fff'}, {offset: 0.5, color: '#111'}, {offset: 0.6125, color: '#111'}, {offset: 0.6125, color: '#fff'}, {offset: 0.75, color: '#fff'}, {offset: 0.75, color: '#111'}, {offset: 0.8625, color: '#111'}, {offset: 0.8625, color: '#fff'}, {offset: 1, color: '#fff'}]} : datum.value === 'PBA' ? {gradient: 'linear', x1: 0, y1: 0, x2: 1, y2: 0, stops: [{offset: 0, color: '#fff'}, {offset: 0.3, color: '#fff'}, {offset: 0.3, color: '#c0c0c0'}, {offset: 0.38, color: '#c0c0c0'}, {offset: 0.38, color: '#fff'}, {offset: 0.62, color: '#fff'}, {offset: 0.62, color: '#c0c0c0'}, {offset: 0.7, color: '#c0c0c0'}, {offset: 0.7, color: '#fff'}, {offset: 1, color: '#fff'}]} : datum.value === 'TUDCA' ? '#cacaca' : datum.value === 'TUDCA+DM' ? '#6b6b6b' : datum.value === 'DM' ? '#000000' : '#ffffff'"}}}}}}}}
  ]},
 {"title": "f", "width": 323, "height": 313, "data": {"name": "bars"}, "transform": [{"filter": "datum.panel === 'f'"}],
  "encoding": {
   "x": {"field": "time", "type": "nominal", "sort": ["2 weeks", "2 months"], "title": null, "scale": {"paddingInner": 0.33, "paddingOuter": 0.2}},
   "xOffset": {"field": "group", "type": "nominal", "scale": {"domain": ["CON","PBA","TUDCA","PBA+DM","TUDCA+DM","DM"], "paddingInner": 0, "paddingOuter": 0}},
   "y": {"field": "mean", "type": "quantitative", "title": "Serum Ca (mg/L)", "scale": {"domain": [0, 170], "nice": false}, "axis": {"values": [0,50,100,150]}}
  },
  "layer": [
   {"mark": {"type": "bar", "stroke": "#222222", "strokeWidth": 1}, "encoding": {"fill": {"condition": [{"test": "datum.group === 'TUDCA'", "value": "#cacaca"}, {"test": "datum.group === 'TUDCA+DM'", "value": "#6b6b6b"}, {"test": "datum.group === 'DM'", "value": "#000000"}], "value": "#ffffff"}}},
   {"transform": [{"filter": "datum.group === 'PBA'"}], "mark": {"type": "bar", "stroke": "#222222", "strokeWidth": 1, "fill": {"gradient": "linear", "x1": 0, "y1": 0, "x2": 1, "y2": 0, "stops": [
{"offset":0,"color":"#fff"},{"offset":0.22,"color":"#fff"},{"offset":0.22,"color":"#c8c8c8"},{"offset":0.28,"color":"#c8c8c8"},{"offset":0.28,"color":"#fff"},
{"offset":0.47,"color":"#fff"},{"offset":0.47,"color":"#c8c8c8"},{"offset":0.53,"color":"#c8c8c8"},{"offset":0.53,"color":"#fff"},
{"offset":0.72,"color":"#fff"},{"offset":0.72,"color":"#c8c8c8"},{"offset":0.78,"color":"#c8c8c8"},{"offset":0.78,"color":"#fff"},{"offset":1,"color":"#fff"}]}}},
   {"transform": [{"filter": "datum.group === 'PBA+DM'"}], "mark": {"type": "bar", "stroke": "#222222", "strokeWidth": 1, "fill": {"gradient": "linear", "x1": 0, "y1": 0, "x2": 0.1096, "y2": 1.0896, "stops": [
{"offset":0,"color":"#111"},{"offset":0.015,"color":"#111"},{"offset":0.015,"color":"#fff"},{"offset":0.0333,"color":"#fff"},
{"offset":0.0333,"color":"#111"},{"offset":0.0483,"color":"#111"},{"offset":0.0483,"color":"#fff"},{"offset":0.0667,"color":"#fff"},
{"offset":0.0667,"color":"#111"},{"offset":0.0817,"color":"#111"},{"offset":0.0817,"color":"#fff"},{"offset":0.1,"color":"#fff"},
{"offset":0.1,"color":"#111"},{"offset":0.115,"color":"#111"},{"offset":0.115,"color":"#fff"},{"offset":0.1333,"color":"#fff"},
{"offset":0.1333,"color":"#111"},{"offset":0.1483,"color":"#111"},{"offset":0.1483,"color":"#fff"},{"offset":0.1667,"color":"#fff"},
{"offset":0.1667,"color":"#111"},{"offset":0.1817,"color":"#111"},{"offset":0.1817,"color":"#fff"},{"offset":0.2,"color":"#fff"},
{"offset":0.2,"color":"#111"},{"offset":0.215,"color":"#111"},{"offset":0.215,"color":"#fff"},{"offset":0.2333,"color":"#fff"},
{"offset":0.2333,"color":"#111"},{"offset":0.2483,"color":"#111"},{"offset":0.2483,"color":"#fff"},{"offset":0.2667,"color":"#fff"},
{"offset":0.2667,"color":"#111"},{"offset":0.2817,"color":"#111"},{"offset":0.2817,"color":"#fff"},{"offset":0.3,"color":"#fff"},
{"offset":0.3,"color":"#111"},{"offset":0.315,"color":"#111"},{"offset":0.315,"color":"#fff"},{"offset":0.3333,"color":"#fff"},
{"offset":0.3333,"color":"#111"},{"offset":0.3483,"color":"#111"},{"offset":0.3483,"color":"#fff"},{"offset":0.3667,"color":"#fff"},
{"offset":0.3667,"color":"#111"},{"offset":0.3817,"color":"#111"},{"offset":0.3817,"color":"#fff"},{"offset":0.4,"color":"#fff"},
{"offset":0.4,"color":"#111"},{"offset":0.415,"color":"#111"},{"offset":0.415,"color":"#fff"},{"offset":0.4333,"color":"#fff"},
{"offset":0.4333,"color":"#111"},{"offset":0.4483,"color":"#111"},{"offset":0.4483,"color":"#fff"},{"offset":0.4667,"color":"#fff"},
{"offset":0.4667,"color":"#111"},{"offset":0.4817,"color":"#111"},{"offset":0.4817,"color":"#fff"},{"offset":0.5,"color":"#fff"},
{"offset":0.5,"color":"#111"},{"offset":0.515,"color":"#111"},{"offset":0.515,"color":"#fff"},{"offset":0.5333,"color":"#fff"},
{"offset":0.5333,"color":"#111"},{"offset":0.5483,"color":"#111"},{"offset":0.5483,"color":"#fff"},{"offset":0.5667,"color":"#fff"},
{"offset":0.5667,"color":"#111"},{"offset":0.5817,"color":"#111"},{"offset":0.5817,"color":"#fff"},{"offset":0.6,"color":"#fff"},
{"offset":0.6,"color":"#111"},{"offset":0.615,"color":"#111"},{"offset":0.615,"color":"#fff"},{"offset":0.6333,"color":"#fff"},
{"offset":0.6333,"color":"#111"},{"offset":0.6483,"color":"#111"},{"offset":0.6483,"color":"#fff"},{"offset":0.6667,"color":"#fff"},
{"offset":0.6667,"color":"#111"},{"offset":0.6817,"color":"#111"},{"offset":0.6817,"color":"#fff"},{"offset":0.7,"color":"#fff"},
{"offset":0.7,"color":"#111"},{"offset":0.715,"color":"#111"},{"offset":0.715,"color":"#fff"},{"offset":0.7333,"color":"#fff"},
{"offset":0.7333,"color":"#111"},{"offset":0.7483,"color":"#111"},{"offset":0.7483,"color":"#fff"},{"offset":0.7667,"color":"#fff"},
{"offset":0.7667,"color":"#111"},{"offset":0.7817,"color":"#111"},{"offset":0.7817,"color":"#fff"},{"offset":0.8,"color":"#fff"},
{"offset":0.8,"color":"#111"},{"offset":0.815,"color":"#111"},{"offset":0.815,"color":"#fff"},{"offset":0.8333,"color":"#fff"},
{"offset":0.8333,"color":"#111"},{"offset":0.8483,"color":"#111"},{"offset":0.8483,"color":"#fff"},{"offset":0.8667,"color":"#fff"},
{"offset":0.8667,"color":"#111"},{"offset":0.8817,"color":"#111"},{"offset":0.8817,"color":"#fff"},{"offset":0.9,"color":"#fff"},
{"offset":0.9,"color":"#111"},{"offset":0.915,"color":"#111"},{"offset":0.915,"color":"#fff"},{"offset":0.9333,"color":"#fff"},
{"offset":0.9333,"color":"#111"},{"offset":0.9483,"color":"#111"},{"offset":0.9483,"color":"#fff"},{"offset":0.9667,"color":"#fff"},
{"offset":0.9667,"color":"#111"},{"offset":0.9817,"color":"#111"},{"offset":0.9817,"color":"#fff"},{"offset":1,"color":"#fff"}]}}},
   {"mark": {"type": "rule", "color": "#333333", "strokeWidth": 1.5}, "encoding": {"y": {"field": "lo", "type": "quantitative"}, "y2": {"field": "hi"}}},
   {"mark": {"type": "tick", "color": "#333333", "thickness": 1.5, "size": 6, "opacity": 1}, "encoding": {"y": {"field": "hi", "type": "quantitative"}}},
   {"mark": {"type": "tick", "color": "#333333", "thickness": 1.5, "size": 6, "opacity": 1}, "encoding": {"y": {"field": "lo", "type": "quantitative"}}},
   {"transform": [{"filter": "isValid(datum.n1)"}], "mark": {"type": "text", "baseline": "alphabetic", "dy": -5, "fontSize": 12, "font": "Liberation Sans, DejaVu Sans, Noto Sans CJK SC"}, "encoding": {"y": {"field": "hi", "type": "quantitative"}, "text": {"field": "n1"}, "color": {"field": "n1", "type": "nominal", "scale": {"domain": ["*","#","§","※"], "range": ["#000000","#444444","#555555","#8a8a8a"]}, "legend": null}}},
   {"mark": {"type": "point", "filled": true, "opacity": 0}, "encoding": {"shape": {"field": "group", "type": "nominal", "scale": {"domain": ["CON","PBA","TUDCA","PBA+DM","TUDCA+DM","DM"], "range": ["square","square","square","square","square","square"]},
     "legend": {"title": null, "orient": "none", "legendX": 29, "legendY": 16, "encode": {"symbols": {"stroke": {"value": "#222222"}, "strokeWidth": {"value": 1}, "opacity": {"value": 1}, "fillOpacity": {"value": 1}, "fill": {"value": {"expr": "datum.value === 'PBA+DM' ? {gradient: 'linear', x1: 0, y1: 0, x2: 1, y2: 1, stops: [{offset: 0, color: '#111'}, {offset: 0.1125, color: '#111'}, {offset: 0.1125, color: '#fff'}, {offset: 0.25, color: '#fff'}, {offset: 0.25, color: '#111'}, {offset: 0.3625, color: '#111'}, {offset: 0.3625, color: '#fff'}, {offset: 0.5, color: '#fff'}, {offset: 0.5, color: '#111'}, {offset: 0.6125, color: '#111'}, {offset: 0.6125, color: '#fff'}, {offset: 0.75, color: '#fff'}, {offset: 0.75, color: '#111'}, {offset: 0.8625, color: '#111'}, {offset: 0.8625, color: '#fff'}, {offset: 1, color: '#fff'}]} : datum.value === 'PBA' ? {gradient: 'linear', x1: 0, y1: 0, x2: 1, y2: 0, stops: [{offset: 0, color: '#fff'}, {offset: 0.3, color: '#fff'}, {offset: 0.3, color: '#c0c0c0'}, {offset: 0.38, color: '#c0c0c0'}, {offset: 0.38, color: '#fff'}, {offset: 0.62, color: '#fff'}, {offset: 0.62, color: '#c0c0c0'}, {offset: 0.7, color: '#c0c0c0'}, {offset: 0.7, color: '#fff'}, {offset: 1, color: '#fff'}]} : datum.value === 'TUDCA' ? '#cacaca' : datum.value === 'TUDCA+DM' ? '#6b6b6b' : datum.value === 'DM' ? '#000000' : '#ffffff'"}}}}}}}}
  ]}
 ], "spacing": 22, "resolve": {"scale": {"color": "independent", "shape": "independent", "y": "independent", "x": "independent", "xOffset": "independent"}, "legend": {"color": "independent", "shape": "independent"}}}
]
}
